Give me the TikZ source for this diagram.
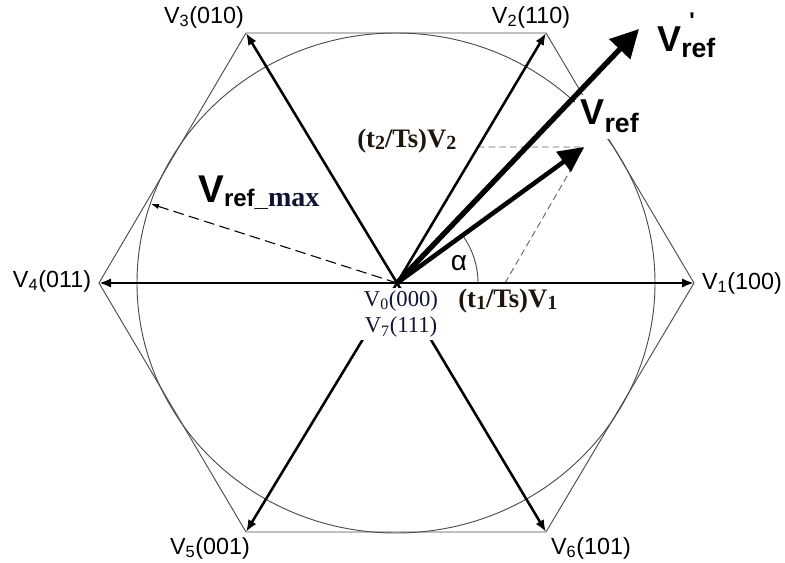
\documentclass[tikz,border=0pt]{standalone}
\usepackage{fontspec}
\setmainfont{Liberation Sans}
\newfontfamily\seriffont{Liberation Serif}
\usetikzlibrary{arrows.meta,calc}
\definecolor{navy}{RGB}{15,20,50}
\definecolor{brownish}{RGB}{30,20,10}
\newcommand{\fs}[1]{\fontsize{#1}{#1}\selectfont}
\newcommand{\vlab}[2]{V\textsubscript{#1}(#2)}
\newcommand{\tsub}[1]{\raisebox{-1.5pt}{\fs{15}#1}}
\begin{document}
\begin{tikzpicture}[x=0.75pt,y=-0.75pt,
  hexline/.style={draw=black!70, line width=0.7pt},
  vec/.style={line width=1.9pt, -{Latex[length=9pt,width=7pt]}},
  refvec/.style={line width=3.4pt, -{Triangle[length=19pt,width=18pt]}},
  refpvec/.style={line width=4pt, -{Triangle[length=21pt,width=21pt]}},
  comp/.style={draw=black!60, line width=0.7pt, dash pattern=on 5pt off 3pt},
  maxvec/.style={line width=0.8pt, dash pattern=on 8pt off 4pt, -{Latex[length=6pt,width=4pt]}},
  vlabel/.style={font=\fs{17.5}, inner sep=1pt},
  biglab/.style={anchor=base west, inner sep=0pt, font=\bfseries},
  complab/.style={anchor=base west, inner sep=0pt, font=\seriffont\bfseries\fs{20}, text=brownish}]
\useasboundingbox (0,0) rectangle (785,563);
\coordinate (O) at (397,283);
\coordinate (v1) at (694,283);
\coordinate (v2) at (546,33);
\coordinate (v3) at (246,33);
\coordinate (v4) at (99,283);
\coordinate (v5) at (246,532);
\coordinate (v6) at (546,532);
\coordinate (vref) at (584,147);
\coordinate (vrefp) at (639,29);
\coordinate (vmax) at (151,204);
\coordinate (t1p) at (505,283);
\coordinate (t2p) at ($(O)!0.544!(v2)$);
% hexagon and circle
\draw[hexline] (v1) -- (v2) -- (v3) -- (v4) -- (v5) -- (v6) -- cycle;
\draw[hexline] (396,283) ellipse [x radius=259, y radius=250];
% Vref label (covers circle and hexagon)
\node[biglab, fill=white, inner sep=4pt] (lref) at (575,125)
  {\fs{27}V\raisebox{-6pt}{\fs{20}ref}};
% components
\draw[comp] (t2p) -- (vref);
\draw[comp] (t1p) -- (vref);
% angle
\draw[line width=0.7pt, draw=black!70] (478,283) arc[start angle=0, end angle=-36, radius=81];
\node[font=\fs{21}] (alpha) at (459,263) {α};
% vectors
\draw[vec] (O) -- (v1);
\draw[vec] (O) -- (v2);
\draw[vec] (O) -- (v3);
\draw[vec] (O) -- (v4);
\draw[vec] (O) -- (v5);
\draw[vec] (O) -- (v6);
\draw[maxvec] (O) -- (vmax);
\draw[refvec] (O) -- (vref);
\draw[refpvec] (O) -- (vrefp);
% zero vectors label
\node[fill=white, inner sep=2pt, font=\seriffont\fontsize{17}{20}\selectfont, text=navy, align=center] (zero) at (401,314)
  {V\textsubscript{0}(000)\\V\textsubscript{7}(111)};
% vertex labels
\node[vlabel] (l1) at (742,283) {\vlab{1}{100}};
\node[vlabel] (l2) at (531,17) {\vlab{2}{110}};
\node[vlabel] (l3) at (204,17) {\vlab{3}{010}};
\node[vlabel] (l4) at (52,281) {\vlab{4}{011}};
\node[vlabel] (l5) at (210,548) {\vlab{5}{001}};
\node[vlabel] (l6) at (591,548) {\vlab{6}{101}};
% big labels
\node[biglab] (lmax) at (198,203)
  {\fs{29}V\raisebox{-2.5pt}{\fs{18}ref\_\seriffont\fs{21}\color{navy}max}};
\node[biglab] (lrefp) at (657,52)
  {\fs{27}V\rlap{\hspace{6pt}\raisebox{17.5pt}{\fs{17}\textquotesingle}}\raisebox{-4.5pt}{\fs{20}ref}};
% component labels
\node[complab] (lt2) at (357,148) {(t\tsub{2}/Ts)V\tsub{2}};
\node[complab] (lt1) at (458,307) {(t\tsub{1}/Ts)V\tsub{1}};
\end{tikzpicture}
\end{document}
